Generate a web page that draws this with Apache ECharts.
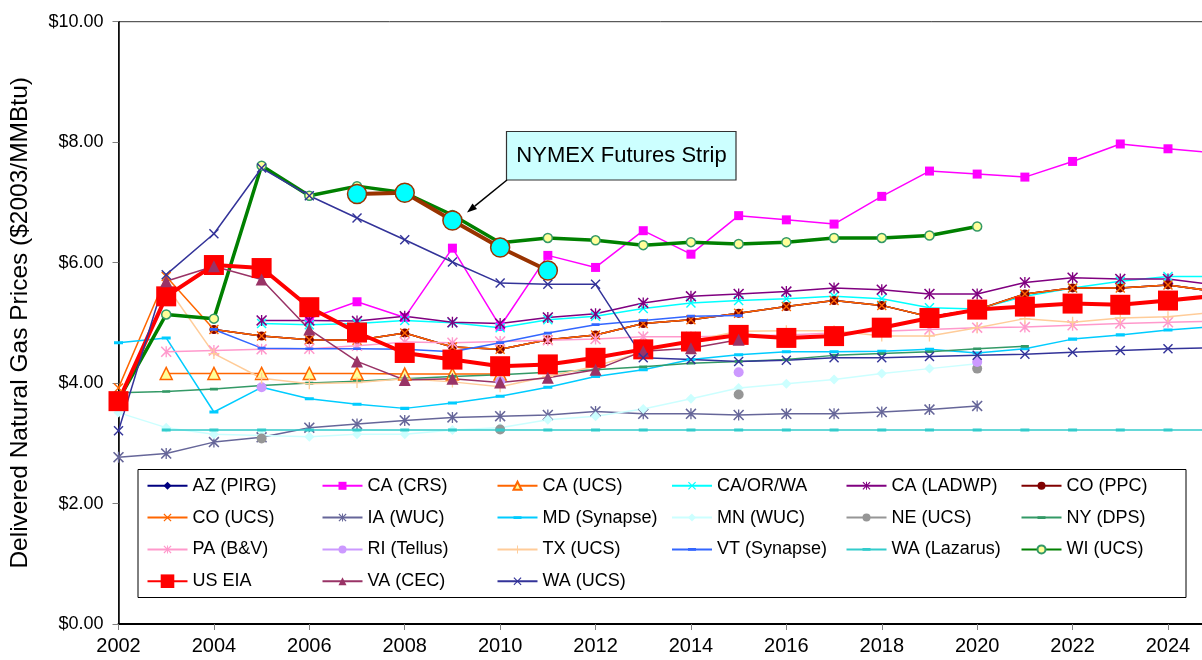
<!DOCTYPE html>
<html>
<head>
<meta charset="utf-8">
<script src="https://cdn.jsdelivr.net/npm/echarts@6/dist/echarts.min.js"></script>
<style>
  html, body { margin: 0; padding: 0; background: #ffffff; }
  #chart { width: 1202px; height: 660px; }
</style>
</head>
<body>
<div id="chart"></div>
<script>
// Forecast years on the x axis
const YEARS = [2002, 2003, 2004, 2005, 2006, 2007, 2008, 2009, 2010, 2011, 2012, 2013,
               2014, 2015, 2016, 2017, 2018, 2019, 2020, 2021, 2022, 2023, 2024, 2025];

// Delivered natural gas price forecasts, $2003/MMBtu (null = no value for that year)
const AZ_PIRG    = [null, null, 4.89, 4.78, 4.72, 4.71, 4.83, 4.60, 4.56, 4.72, 4.80, 4.99, 5.05, 5.16, 5.27, 5.37, 5.29, 5.10, 5.22, 5.48, 5.58, 5.58, 5.63, 5.52];
const CA_CRS     = [null, null, null, null, 5.07, 5.35, 5.09, 6.24, 4.94, 6.12, 5.92, 6.53, 6.14, 6.78, 6.71, 6.64, 7.10, 7.52, 7.47, 7.42, 7.68, 7.97, 7.89, 7.82];
const CA_UCS     = [null, 4.16, 4.16, 4.16, 4.16, 4.16, 4.15, 4.15, 4.15, null, null, null, null, null, null, null, null, null, null, null, null, null, null, null];
const CA_OR_WA   = [null, null, null, 4.99, 4.97, 4.99, 5.04, 5.00, 4.92, 5.05, 5.11, 5.24, 5.33, 5.37, 5.40, 5.44, 5.40, 5.25, 5.23, 5.44, 5.58, 5.69, 5.77, 5.77];
const CA_LADWP   = [null, null, null, 5.04, 5.04, 5.03, 5.11, 5.01, 4.99, 5.09, 5.15, 5.33, 5.44, 5.48, 5.52, 5.58, 5.55, 5.48, 5.48, 5.67, 5.75, 5.73, 5.73, 5.63];
const CO_PPC     = [null, null, 4.89, 4.78, 4.72, 4.71, 4.83, 4.60, 4.56, 4.72, 4.80, 4.99, 5.05, 5.16, 5.27, 5.37, 5.29, 5.10, 5.22, 5.48, 5.58, 5.58, 5.63, 5.52];
const CO_UCS     = [3.92, 5.77, 4.89, 4.78, 4.72, 4.71, 4.83, 4.60, 4.56, 4.72, 4.80, 4.99, 5.05, 5.16, 5.27, 5.37, 5.29, 5.10, 5.22, 5.48, 5.58, 5.58, 5.63, 5.52];
const IA_WUC     = [2.77, 2.83, 3.02, 3.10, 3.26, 3.32, 3.38, 3.43, 3.45, 3.47, 3.53, 3.49, 3.49, 3.47, 3.49, 3.49, 3.52, 3.56, 3.62, null, null, null, null, null];
const MD_SYNAPSE = [4.67, 4.75, 3.52, 3.93, 3.74, 3.65, 3.58, 3.67, 3.78, 3.93, 4.11, 4.22, 4.39, 4.47, 4.52, 4.52, 4.53, 4.56, 4.50, 4.57, 4.73, 4.80, 4.88, 4.94];
const MN_WUC     = [3.51, 3.26, 3.15, 3.13, 3.11, 3.15, 3.15, 3.22, 3.26, 3.39, 3.45, 3.57, 3.74, 3.92, 3.99, 4.06, 4.16, 4.24, 4.32, null, null, null, null, null];
const NE_UCS     = [null, null, null, 3.08, null, null, null, null, 3.23, null, null, null, null, 3.81, null, null, null, null, 4.24, null, null, null, null, null];
const NY_DPS     = [3.84, 3.86, 3.90, 3.96, 4.00, 4.03, 4.07, 4.11, 4.14, 4.18, 4.22, 4.27, 4.33, 4.36, 4.39, 4.46, 4.49, 4.52, 4.57, 4.61, null, null, null, null];
const PA_BV      = [null, 4.52, 4.54, 4.56, 4.57, 4.62, 4.68, 4.67, 4.69, 4.71, 4.73, 4.77, 4.77, 4.78, 4.80, 4.83, 4.86, 4.89, 4.92, 4.93, 4.96, 4.99, 5.01, 5.03];
const RI_TELLUS  = [null, null, null, 3.93, null, null, null, null, 4.03, null, null, null, null, 4.18, null, null, null, null, 4.35, null, null, null, null, null];
const TX_UCS     = [null, 5.62, 4.49, 4.08, 3.99, 4.01, 4.07, 4.02, 3.94, 4.11, 4.28, 4.52, 4.70, 4.86, 4.87, 4.87, 4.78, 4.78, 4.92, 5.07, 5.01, 5.08, 5.10, 5.18];
const VT_SYNAPSE = [null, null, 4.89, 4.58, 4.57, 4.57, 4.56, 4.52, 4.67, 4.83, 4.97, 5.04, 5.11, 5.12, null, null, null, null, null, null, null, null, null, null];
const WA_LAZARUS = [null, 3.22, 3.22, 3.22, 3.22, 3.22, 3.22, 3.22, 3.22, 3.22, 3.22, 3.22, 3.22, 3.22, 3.22, 3.22, 3.22, 3.22, 3.22, 3.22, 3.22, 3.22, 3.22, 3.22];
const WI_UCS     = [3.72, 5.14, 5.07, 7.61, 7.11, 7.27, 7.16, 6.79, 6.33, 6.41, 6.37, 6.29, 6.34, 6.31, 6.34, 6.41, 6.41, 6.45, 6.60, null, null, null, null, null];
const US_EIA     = [3.70, 5.44, 5.96, 5.91, 5.26, 4.84, 4.50, 4.39, 4.28, 4.31, 4.42, 4.56, 4.69, 4.80, 4.75, 4.78, 4.92, 5.08, 5.22, 5.27, 5.32, 5.30, 5.37, 5.45];
const VA_CEC     = [null, 5.69, 5.94, 5.72, 4.89, 4.36, 4.05, 4.07, 4.01, 4.09, 4.22, 4.53, 4.58, 4.72, null, null, null, null, null, null, null, null, null, null];
const WA_UCS     = [3.21, 5.80, 6.48, 7.57, 7.11, 6.74, 6.38, 6.01, 5.66, 5.64, 5.64, 4.42, 4.39, 4.36, 4.38, 4.42, 4.42, 4.44, 4.46, 4.48, 4.51, 4.54, 4.57, 4.59];
const NYMEX      = [null, null, null, null, null, 7.14, 7.16, 6.70, 6.25, 5.87, null, null, null, null, null, null, null, null, null, null, null, null, null, null];

// Axis ticks
const X_TICK_START = 2002, X_TICK_END = 2026, X_TICK_STEP = 2;
const Y_TICK_START = 0, Y_TICK_END = 10, Y_TICK_STEP = 2;

// Marker shapes (filled outlines so they read like stroked glyphs)
const SYM_X    = 'path://M0,1L1,0L5,4L9,0L10,1L6,5L10,9L9,10L5,6L1,10L0,9L4,5Z';
const SYM_STAR = 'path://M0,1L1,0L5,4L9,0L10,1L6,5L10,9L9,10L5,6L1,10L0,9L4,5ZM4.4,0L5.6,0L5.6,10L4.4,10Z';
const SYM_PLUS = 'path://M4.4,0L5.6,0L5.6,4.4L10,4.4L10,5.6L5.6,5.6L5.6,10L4.4,10L4.4,5.6L0,5.6L0,4.4L4.4,4.4Z';
const SYM_DASH = 'path://M0,0L0,0ZM0,3.3L10,3.3L10,6.7L0,6.7ZM10,10L10,10Z';

// Series drawn in order (later ones on top)
const SERIES = [
  { name: 'AZ (PIRG)',    data: AZ_PIRG,    color: '#000080', symbol: 'diamond', size: 8 },
  { name: 'CA (CRS)',     data: CA_CRS,     color: '#FF00FF', symbol: 'rect', size: 9 },
  { name: 'CA (UCS)',     data: CA_UCS,     color: '#FF6600', symbol: 'triangle', size: 12, fill: '#FFFF99' },
  { name: 'CA/OR/WA',     data: CA_OR_WA,   color: '#00FFFF', symbol: SYM_X, size: 10 },
  { name: 'CA (LADWP)',   data: CA_LADWP,   color: '#800080', symbol: SYM_STAR, size: 11 },
  { name: 'CO (PPC)',     data: CO_PPC,     color: '#800000', symbol: 'circle', size: 9 },
  { name: 'CO (UCS)',     data: CO_UCS,     color: '#FF6600', symbol: SYM_X, size: 10 },
  { name: 'IA (WUC)',     data: IA_WUC,     color: '#666699', symbol: SYM_STAR, size: 11 },
  { name: 'MD (Synapse)', data: MD_SYNAPSE, color: '#00CCFF', symbol: SYM_DASH, size: 9 },
  { name: 'MN (WUC)',     data: MN_WUC,     color: '#CCFFFF', symbol: 'diamond', size: 10 },
  { name: 'NE (UCS)',     data: NE_UCS,     color: '#969696', symbol: 'circle', size: 10 },
  { name: 'NY (DPS)',     data: NY_DPS,     color: '#339966', symbol: SYM_DASH, size: 8 },
  { name: 'PA (B&V)',     data: PA_BV,      color: '#FF99CC', symbol: SYM_STAR, size: 11 },
  { name: 'RI (Tellus)',  data: RI_TELLUS,  color: '#CC99FF', symbol: 'circle', size: 10 },
  { name: 'TX (UCS)',     data: TX_UCS,     color: '#FFCC99', symbol: SYM_PLUS, size: 11 },
  { name: 'VT (Synapse)', data: VT_SYNAPSE, color: '#3366FF', symbol: SYM_DASH, size: 8 },
  { name: 'WA (Lazarus)', data: WA_LAZARUS, color: '#33CCCC', symbol: SYM_DASH, size: 9 },
  { name: 'WI (UCS)',     data: WI_UCS,     color: '#008000', symbol: 'circle', size: 9, fill: '#FFFF99', border: '#339966', width: 3.5 },
  { name: 'US EIA',       data: US_EIA,     color: '#FF0000', symbol: 'rect', size: 20, width: 4 },
  { name: 'VA (CEC)',     data: VA_CEC,     color: '#993366', symbol: 'triangle', size: 12 },
  { name: 'WA (UCS)',     data: WA_UCS,     color: '#333399', symbol: SYM_X, size: 10 },
  { name: 'NYMEX Futures Strip', data: NYMEX, color: '#993300', symbol: 'circle', size: 19, fill: '#00FFFF', width: 4 }
];

// Legend layout: six columns, read top to bottom
const LEGEND_COLUMNS = [
  ['AZ (PIRG)', 'CO (UCS)', 'PA (B&V)'],
  ['CA (CRS)', 'IA (WUC)', 'RI (Tellus)', 'VA (CEC)'],
  ['CA (UCS)', 'MD (Synapse)', 'TX (UCS)', 'WA (UCS)'],
  ['CA/OR/WA', 'MN (WUC)', 'VT (Synapse)'],
  ['CA (LADWP)', 'NE (UCS)', 'WA (Lazarus)'],
  ['CO (PPC)', 'NY (DPS)', 'WI (UCS)']
];
const LEGEND_COL_X = [146.5, 321.5, 496.5, 671, 845.5, 1020.5];

const FONT = '"Liberation Sans", Arial, Helvetica, sans-serif';
const FONT_NARROW = '"Liberation Sans Narrow", "Arial Narrow", "Liberation Sans", Arial, sans-serif';

const seriesOptions = SERIES.map(s => ({
  name: s.name,
  type: 'line',
  data: YEARS.map((y, i) => [y, s.data[i]]),
  connectNulls: false,
  symbol: s.symbol,
  symbolSize: s.size,
  showSymbol: true,
  lineStyle: { color: s.color, width: s.width || 1.5 },
  itemStyle: {
    color: s.fill || s.color,
    borderColor: s.border || s.color,
    borderWidth: s.fill ? 1.5 : 0
  },
  emphasis: { disabled: true },
  silent: true,
  animation: false
}));

const legendBase = {
  orient: 'vertical',
  padding: 0,
  itemWidth: 40,
  itemHeight: 10,
  itemGap: 11.8,
  selectedMode: false,
  z: 6,
  textStyle: { fontFamily: FONT, fontSize: 18, color: '#000', lineHeight: 20 }
};

const legends = LEGEND_COLUMNS.map((col, i) => Object.assign({}, legendBase, {
  left: LEGEND_COL_X[i],
  top: 475.8,
  data: col
}));
legends.push(Object.assign({}, legendBase, {
  left: LEGEND_COL_X[0],
  top: 571.2,
  itemHeight: 17,
  data: ['US EIA']
}));

// Callout arrow geometry (tip points at the futures curve)
const arrowStart = [507, 180], arrowTip = [467, 212.5];
const dx = arrowTip[0] - arrowStart[0], dy = arrowTip[1] - arrowStart[1];
const len = Math.hypot(dx, dy), ux = dx / len, uy = dy / len;
const headLen = 10, headHalf = 3.6;
const baseX = arrowTip[0] - ux * headLen, baseY = arrowTip[1] - uy * headLen;

const chart = echarts.init(document.getElementById('chart'), null, { renderer: 'canvas' });
chart.setOption({
  backgroundColor: '#ffffff',
  animation: false,
  grid: {
    left: 118.5, top: 21.7, right: -61.4, bottom: 36,
    containLabel: false,
    outerBoundsMode: 'none',
    show: true,
    borderColor: '#333333',
    borderWidth: 1,
    backgroundColor: 'transparent'
  },
  xAxis: {
    type: 'value',
    min: X_TICK_START, max: X_TICK_END, interval: X_TICK_STEP,
    axisLine: { show: true, onZero: false, lineStyle: { color: '#000', width: 2 } },
    axisTick: { show: true, inside: false, length: 6, lineStyle: { color: '#808080', width: 1 } },
    axisLabel: { fontFamily: FONT, fontSize: 20, color: '#000', margin: 12, formatter: v => String(v) },
    splitLine: { show: false }
  },
  yAxis: {
    type: 'value',
    min: Y_TICK_START, max: Y_TICK_END, interval: Y_TICK_STEP,
    name: 'Delivered Natural Gas Prices ($2003/MMBtu)',
    nameLocation: 'middle',
    nameRotate: 90,
    nameGap: 86,
    nameMoveOverlap: false,
    nameTextStyle: { fontFamily: FONT, fontSize: 24.5, color: '#000' },
    axisLine: { show: true, lineStyle: { color: '#000', width: 1.5 } },
    axisTick: { show: true, inside: false, length: 6, lineStyle: { color: '#808080', width: 1 } },
    axisLabel: { fontFamily: FONT_NARROW, fontSize: 18, color: '#000', margin: 15, formatter: v => '$' + v.toFixed(2) },
    splitLine: { show: false }
  },
  legend: legends,
  graphic: [
    { type: 'rect', z: 5, shape: { x: 138, y: 469.5, width: 1048, height: 128 },
      style: { fill: '#ffffff', stroke: '#000000', lineWidth: 1 } },
    { type: 'rect', z: 10, shape: { x: 506.5, y: 131.5, width: 229.5, height: 48.5 },
      style: { fill: '#CCFFFF', stroke: '#333333', lineWidth: 1.2 } },
    { type: 'text', z: 11, x: 621.5, y: 156,
      style: { text: 'NYMEX Futures Strip', fontFamily: FONT, fontSize: 22, fill: '#000',
               align: 'center', verticalAlign: 'middle' } },
    { type: 'line', z: 10, shape: { x1: arrowStart[0], y1: arrowStart[1], x2: baseX, y2: baseY },
      style: { stroke: '#000', lineWidth: 1.5 } },
    { type: 'polygon', z: 10,
      shape: { points: [
        arrowTip,
        [baseX + uy * headHalf, baseY - ux * headHalf],
        [baseX - uy * headHalf, baseY + ux * headHalf]
      ] },
      style: { fill: '#000' } }
  ],
  series: seriesOptions
});
</script>
</body>
</html>
